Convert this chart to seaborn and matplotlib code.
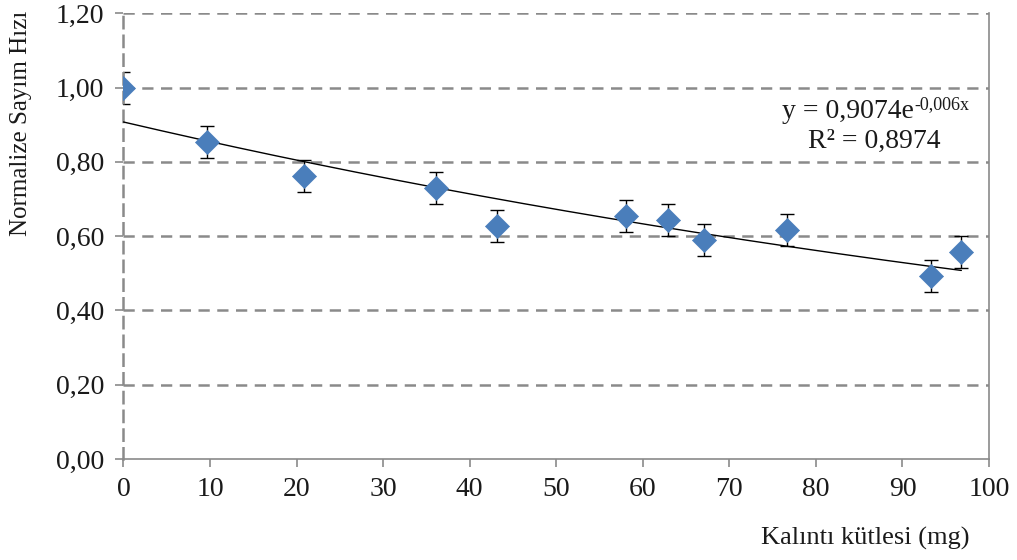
import numpy as np
import pandas as pd
import matplotlib
matplotlib.use("Agg")
import matplotlib.pyplot as plt
import seaborn as sns

# Residue mass (mg) and normalised count rate
mass_mg = [0.0, 9.7, 20.8, 36.1, 43.2, 58.1, 62.9, 67.1, 76.7, 93.3, 96.8]
count_rate = [1.000, 0.854, 0.763, 0.729, 0.628, 0.654, 0.644, 0.590, 0.617, 0.493, 0.558]
error = [0.043] * 11

# Exponential trend: y = a * exp(b * x)
fit_a = 0.9074
fit_b = -0.006
r_squared = 0.8974

y_ticks = [0.0, 0.2, 0.4, 0.6, 0.8, 1.0, 1.2]
y_tick_labels = ["0,00", "0,20", "0,40", "0,60", "0,80", "1,00", "1,20"]
x_ticks = [0, 10, 20, 30, 40, 50, 60, 70, 80, 90, 100]

sns.set_theme(style="white")
plt.rcParams["font.family"] = ["Liberation Serif", "DejaVu Serif"]

grid_col = "#8a8a8a"
txt_col = "#1a1a1a"
fs = 20

fig = plt.figure(figsize=(10.17, 5.60), dpi=100)
ax = fig.add_axes([0.1214, 0.1804, 0.8511, 0.7958])

df = pd.DataFrame({"x": mass_mg, "y": count_rate})

# Horizontal dashed grid
for yt in y_ticks[1:]:
    ax.axhline(yt, color=grid_col, lw=1.8, ls=(0, (4.5, 3.0)), zorder=0)

# Trend line
xf = np.linspace(0, max(mass_mg), 200)
fit_df = pd.DataFrame({"x": xf, "y": fit_a * np.exp(fit_b * xf)})
sns.lineplot(data=fit_df, x="x", y="y", ax=ax, color="black", lw=1.0, zorder=3)

# Error bars
ax.errorbar(mass_mg, count_rate, yerr=error, fmt="none", ecolor="black",
            elinewidth=1.0, capsize=4.7, capthick=1.0, zorder=2)

# Markers
sns.scatterplot(data=df, x="x", y="y", ax=ax, marker="D", s=150,
                color="#4a7ebb", edgecolor="#4a7ebb", linewidth=0.5, zorder=4)

ax.set_xlim(0, 100)
ax.set_ylim(0, 1.2)
ax.set_xticks(x_ticks)
ax.set_xticklabels([str(v) for v in x_ticks], fontsize=fs)
ax.set_yticks(y_ticks)
ax.set_yticklabels(y_tick_labels, fontsize=fs)
ax.tick_params(axis="both", which="major", direction="out", length=6,
               width=1.2, color=grid_col, labelcolor=txt_col)
ax.tick_params(axis="x", bottom=True, pad=7)
ax.tick_params(axis="y", left=True, pad=8)

ax.set_xlabel("")
ax.set_ylabel("")

ax.spines["top"].set_visible(False)
ax.spines["left"].set_color(grid_col)
ax.spines["left"].set_linestyle((0, (4.5, 3.0)))
ax.spines["left"].set_linewidth(1.8)
ax.spines["right"].set_color(grid_col)
ax.spines["right"].set_linewidth(1.2)
ax.spines["bottom"].set_color(grid_col)
ax.spines["bottom"].set_linewidth(1.2)

# Trend equation with superscript exponent
eq = fig.text(0.769, 0.789, "y = 0,9074e", ha="left", va="baseline",
              fontsize=fs, color=txt_col)
ax.annotate("-0,006x", xy=(1.0, 0.62), xycoords=eq, xytext=(0.5, 0),
            textcoords="offset points", ha="left", va="baseline",
            fontsize=13, color=txt_col, annotation_clip=False)
fig.text(0.860, 0.736, "R² = 0,8974", ha="center", va="baseline",
         fontsize=fs, color=txt_col)

fig.text(0.0206, 0.78, "Normalize Sayım Hızı", rotation=90, ha="center",
         va="center", fontsize=18, color=txt_col)
fig.text(0.851, 0.039, "Kalıntı kütlesi (mg)", ha="center", va="center",
         fontsize=19, color=txt_col)

fig.savefig("out.png", dpi=100)
